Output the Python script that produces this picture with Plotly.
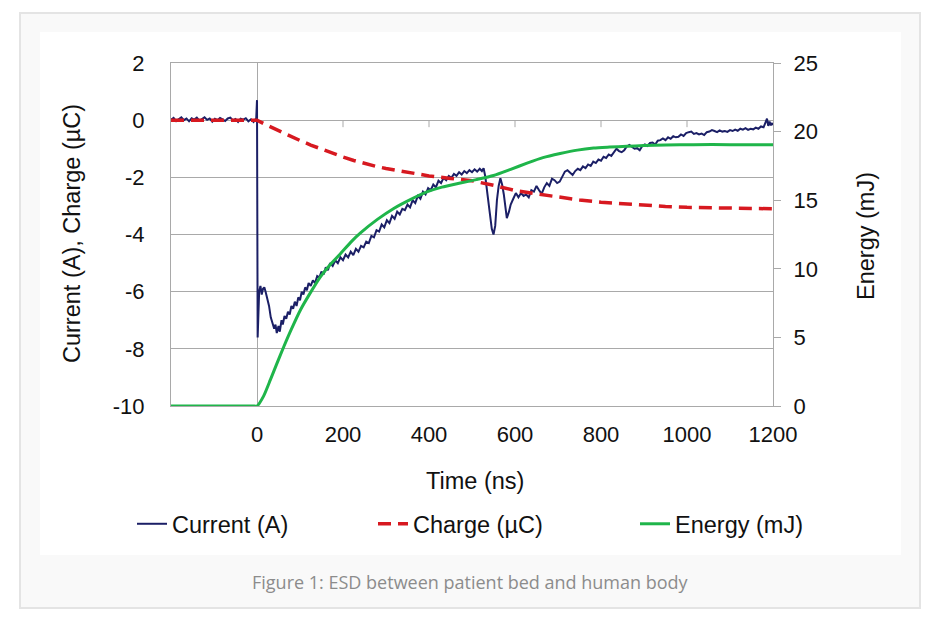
import plotly.graph_objects as go

# ---------------- data ----------------
current_time = [
    -200, -194, -188, -182, -176, -170, -164, -158, -152, -146, -140, -134, -128, -122, -116, -110,
    -104, -98, -92, -86, -80, -74, -68, -62, -56, -50, -44, -38, -32, -26, -20, -14, -8, -4, -2,
    0, 1.5, 3, 5, 8, 11, 14, 17, 20, 24, 28, 32, 36, 40, 43, 46, 50, 53, 57, 60, 64, 68, 72, 76,
    80, 84, 88, 92, 96, 100, 104, 108, 112, 116, 120, 125, 130, 135, 140, 145, 150, 155, 160, 165,
    170, 176, 182, 188, 194, 200, 206, 212, 218, 224, 230, 236, 242, 248, 254, 260, 266, 272, 278,
    284, 290, 296, 302, 308, 314, 320, 326, 332, 338, 344, 350, 356, 362, 368, 374, 380, 386, 392,
    398, 404, 410, 416, 422, 428, 434, 440, 446, 452, 458, 464, 470, 476, 482, 488, 494, 500, 506,
    512, 518, 523, 527, 531, 536, 541, 546, 550, 554, 558, 562, 566, 570, 574, 578, 581, 586, 590,
    596, 602, 608, 614, 620, 626, 632, 638, 644, 650, 656, 662, 668, 674, 680, 686, 692, 698, 704,
    710, 716, 722, 728, 734, 740, 746, 752, 758, 764, 770, 776, 782, 788, 794, 800, 806, 812, 818,
    824, 830, 836, 842, 848, 854, 860, 866, 872, 878, 884, 890, 896, 902, 908, 914, 920, 926, 932,
    938, 944, 950, 956, 962, 968, 974, 980, 986, 992, 998, 1004, 1010, 1016, 1022, 1028, 1034, 1040,
    1046, 1052, 1058, 1064, 1070, 1076, 1082, 1088, 1094, 1100, 1106, 1112, 1118, 1124, 1130, 1136,
    1142, 1148, 1154, 1160, 1166, 1172, 1178, 1182, 1186, 1189, 1192, 1195, 1198, 1200,
]
current_values = [
    0.02, 0.08, -0.03, 0.05, 0.10, 0.00, 0.06, -0.04, 0.07, 0.02, 0.09, -0.02, 0.04, 0.10, 0.01, 0.06,
    -0.05, 0.05, 0.00, 0.08, 0.03, -0.03, 0.06, 0.09, -0.01, 0.04, -0.06, 0.05, 0.02, 0.07, -0.04, 0.03, -0.06, 0.02, 0.00,
    0.70, -7.60, -6.80, -6.00, -5.80, -6.10, -5.90, -5.85, -6.00, -6.25, -6.50, -6.90, -7.10, -7.30, -7.15, -7.45, -7.20, -7.40, -7.00, -7.15, -6.85, -6.95, -6.70, -6.80,
    -6.50, -6.60, -6.35, -6.50, -6.20, -6.30, -6.00, -6.10, -5.85, -5.95, -5.70, -5.80, -5.60, -5.70, -5.45, -5.50, -5.30, -5.40, -5.15, -5.25,
    -5.00, -5.10, -4.90, -5.00, -4.80, -4.90, -4.70, -4.80, -4.60, -4.72, -4.50, -4.60, -4.40, -4.45, -4.25, -4.30, -4.05, -4.10, -3.85,
    -3.90, -3.65, -3.75, -3.50, -3.60, -3.35, -3.45, -3.20, -3.30, -3.10, -3.15, -2.95, -3.05, -2.80, -2.90, -2.65, -2.75, -2.50, -2.60,
    -2.38, -2.45, -2.25, -2.35, -2.12, -2.20, -2.02, -2.10, -1.95, -2.02, -1.88, -1.95, -1.82, -1.90, -1.78, -1.85, -1.75, -1.82, -1.72,
    -1.80, -1.70, -1.78, -1.68, -1.98, -2.60, -3.30, -3.80, -4.00, -3.70, -2.80, -2.30, -2.03, -2.25, -2.60, -3.10, -3.43, -3.20, -2.95,
    -2.75, -2.55, -2.70, -2.55, -2.65, -2.60, -2.70, -2.45, -2.50, -2.30, -2.45, -2.58, -2.35, -2.20, -2.30, -2.05, -2.10, -2.20, -2.15,
    -1.95, -1.80, -1.75, -1.85, -1.92, -1.78, -1.70, -1.75, -1.62, -1.68, -1.55, -1.60, -1.45, -1.50, -1.38, -1.42, -1.28, -1.32, -1.20,
    -1.25, -1.10, -1.00, -1.08, -1.12, -1.05, -0.92, -0.87, -0.95, -1.00, -0.98, -1.05, -0.90, -0.85, -0.90, -0.80, -0.78, -0.85, -0.72,
    -0.70, -0.64, -0.70, -0.60, -0.65, -0.56, -0.60, -0.58, -0.50, -0.55, -0.45, -0.42, -0.40, -0.48, -0.45, -0.50, -0.47, -0.52,
    -0.42, -0.40, -0.35, -0.38, -0.42, -0.36, -0.40, -0.38, -0.41, -0.35, -0.38, -0.33, -0.37, -0.30, -0.33, -0.28,
    -0.34, -0.30, -0.32, -0.26, -0.30, -0.22, -0.25, -0.10, 0.05, -0.20, -0.05, -0.18, -0.10, -0.17,
]

charge_time = [-200, 0, 25, 50, 75, 100, 125, 150, 175, 200, 225, 250, 275, 300, 350, 400, 450, 500,
               550, 600, 650, 700, 750, 800, 850, 900, 950, 1000, 1050, 1100, 1150, 1200]
charge_values = [0, 0, -0.19, -0.37, -0.54, -0.71, -0.87, -1.02, -1.16, -1.29, -1.41, -1.52, -1.61,
                 -1.69, -1.83, -1.95, -2.04, -2.12, -2.28, -2.46, -2.58, -2.69, -2.79, -2.87, -2.93,
                 -2.98, -3.02, -3.05, -3.07, -3.08, -3.09, -3.10]

energy_time = [-200, -10, 0, 15, 31, 45, 62, 80, 101, 125, 147, 170, 194, 220, 240, 280, 318, 360, 395,
               430, 473, 510, 550, 590, 628, 665, 705, 745, 783, 820, 860, 900, 950, 1015, 1100, 1200]
energy_values = [0, 0, 0, 0.7, 1.9, 3.0, 4.3, 5.6, 7.0, 8.3, 9.4, 10.3, 11.1, 12.0, 12.6, 13.6, 14.4, 15.1,
                 15.6, 15.95, 16.25, 16.5, 16.8, 17.25, 17.7, 18.1, 18.4, 18.65, 18.8, 18.87, 18.93,
                 18.98, 19.02, 19.05, 19.05, 19.05]

x_ticks = [0, 200, 400, 600, 800, 1000, 1200]
x_minor_marks = [200, 400, 600, 800, 1000]
left_ticks = [-10, -8, -6, -4, -2, 0, 2]
left_tick_text = ["-10", "-8", "-6", "-4", "-2", "0", "2"]
right_ticks = [0, 5, 10, 15, 20, 25]

series_names = ["Current (A)", "Charge (µC)", "Energy (mJ)"]
x_title = "Time (ns)"
left_title = "Current (A), Charge (µC)"
right_title = "Energy (mJ)"
caption = "Figure 1: ESD between patient bed and human body"

# ---------------- geometry helpers (page pixels -> paper) ----------------
W, H = 940, 627
BODY = 8                       # default page margin around the plot div
PL, PR, PT, PB = 171, 773, 63, 406   # plot area in page pixels


def px(xp):
    return (xp - PL) / (PR - PL)


def py(yp):
    return (PB - yp) / (PB - PT)


FONT = "Liberation Sans, Arial, sans-serif"
GRID = "#a9a9a9"
TXT = "#111111"

fig = go.Figure()
fig.add_trace(go.Scatter(x=current_time, y=current_values, name=series_names[0], mode="lines",
                         line=dict(color="#1b1f66", width=2), legend="legend"))
fig.add_trace(go.Scatter(x=charge_time, y=charge_values, name=series_names[1], mode="lines",
                         line=dict(color="#d71920", width=3.5, dash="13px,7px"),
                         legend="legend2"))
fig.add_trace(go.Scatter(x=energy_time, y=energy_values, name=series_names[2], mode="lines",
                         line=dict(color="#1fb54a", width=3, shape="spline", smoothing=0.6),
                         yaxis="y2", legend="legend3"))

shapes = [
    dict(type="rect", xref="paper", yref="paper", x0=px(20), x1=px(920), y0=py(608), y1=py(13),
         fillcolor="#f9f9f9", line=dict(color="#e4e4e4", width=2), layer="below"),
    dict(type="rect", xref="paper", yref="paper", x0=px(40), x1=px(901), y0=py(555), y1=py(32),
         fillcolor="#ffffff", line=dict(width=0), layer="below"),
]
for v in x_minor_marks:
    shapes.append(dict(type="line", xref="x", yref="y", x0=v, x1=v, ysizemode="pixel", yanchor=0,
                       y0=0, y1=-7, line=dict(color=GRID, width=1)))

leg_common = dict(orientation="h", xanchor="left", yanchor="middle", bgcolor="rgba(0,0,0,0)",
                  font=dict(family=FONT, size=23.5, color=TXT), itemwidth=30)

fig.update_layout(
    width=W, height=H,
    margin=dict(l=PL - BODY, r=W - (PR - BODY), t=PT - BODY, b=H - (PB - BODY), pad=0),
    paper_bgcolor="#ffffff", plot_bgcolor="#ffffff",
    font=dict(family=FONT, size=22, color=TXT),
    showlegend=True,
    shapes=shapes,
    xaxis=dict(range=[-200, 1200], tickvals=x_ticks, showgrid=False, zeroline=True,
               zerolinecolor=GRID, zerolinewidth=1, showline=True, mirror=True, linecolor=GRID,
               linewidth=1, ticks="", ticklabelstandoff=9, tickfont=dict(size=22),
               layer="below traces"),
    yaxis=dict(range=[-10, 2], tickvals=left_ticks, ticktext=left_tick_text, showgrid=True,
               gridcolor=GRID, gridwidth=1, zeroline=False, showline=True, linecolor=GRID,
               linewidth=1, ticks="", ticklabelstandoff=21, tickfont=dict(size=22),
               layer="below traces"),
    yaxis2=dict(range=[0, 25], tickvals=right_ticks, overlaying="y", side="right", showgrid=False,
                zeroline=False, showline=True, linecolor=GRID, linewidth=1, ticks="outside",
                ticklen=7, tickcolor=GRID, ticklabelstandoff=8, tickfont=dict(size=22),
                layer="below traces"),
    legend=dict(x=px(132), y=py(524), **leg_common),
    legend2=dict(x=px(373), y=py(524), **leg_common),
    legend3=dict(x=px(635), y=py(524), **leg_common),
    annotations=[
        dict(text=x_title, xref="paper", yref="paper", x=px(475), y=py(481), showarrow=False,
             xanchor="center", yanchor="middle", font=dict(size=23.5)),
        dict(text=left_title, xref="paper", yref="paper", x=px(72), y=py(234), showarrow=False,
             textangle=-90, xanchor="center", yanchor="middle", font=dict(size=23.5)),
        dict(text=right_title, xref="paper", yref="paper", x=px(866), y=py(236), showarrow=False,
             textangle=-90, xanchor="center", yanchor="middle", font=dict(size=23.5)),
        dict(text=caption, xref="paper", yref="paper", x=px(470), y=py(582), showarrow=False,
             xanchor="center", yanchor="middle",
             font=dict(family="Open Sans, sans-serif", size=18, color="#8c8c8c")),
    ],
)

fig.write_html("out.html")
